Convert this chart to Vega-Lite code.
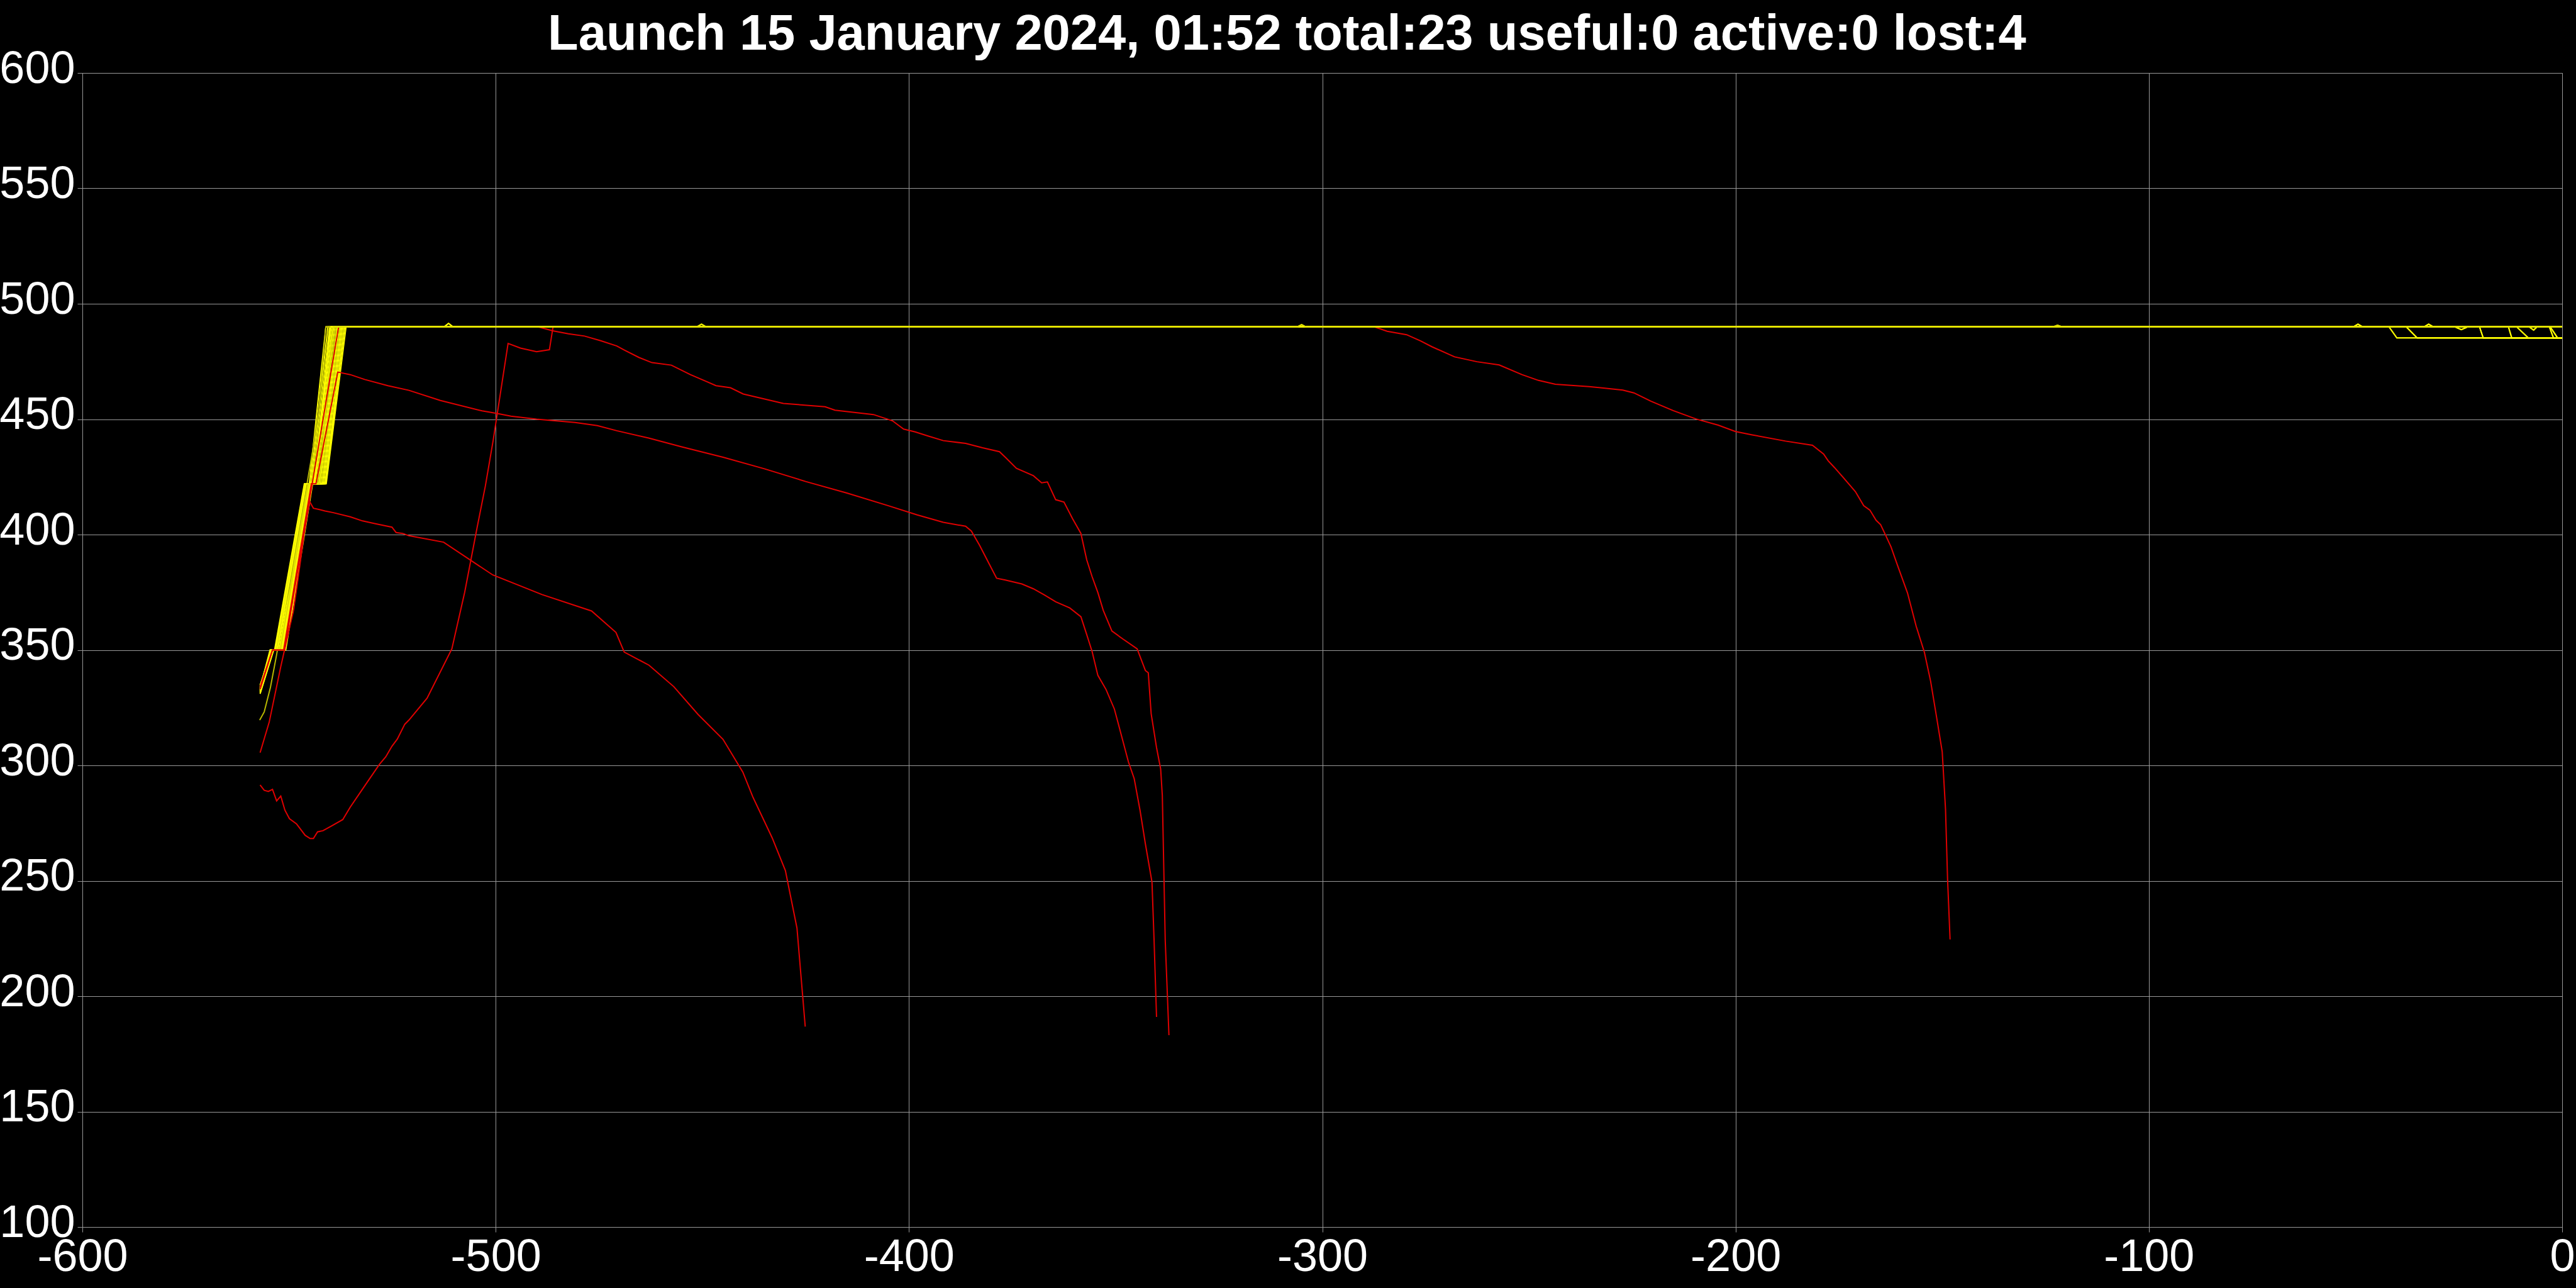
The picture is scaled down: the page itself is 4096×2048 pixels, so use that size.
{
  "$schema": "https://vega.github.io/schema/vega-lite/v6.json",
  "width": 3943,
  "height": 1835,
  "autosize": {"type": "none"},
  "padding": {"left": 131, "top": 116, "right": 22, "bottom": 97},
  "background": "#000000",
  "config": {
    "view": {"stroke": "#999999", "strokeWidth": 1, "fill": "#000000"},
    "axis": {
      "labelFont": "Liberation Sans",
      "labelFontSize": 72,
      "labelColor": "#ffffff",
      "gridColor": "#999999",
      "gridWidth": 1,
      "domainColor": "#999999",
      "tickColor": "#999999",
      "tickSize": 8,
      "labelPadding": 4,
      "labelFlush": false,
      "labelOverlap": false,
      "labelBound": false
    }
  },
  "title": {
    "text": "Launch 15 January 2024, 01:52 total:23 useful:0 active:0 lost:4",
    "font": "Liberation Sans",
    "fontSize": 79.5,
    "fontWeight": "bold",
    "color": "#ffffff",
    "anchor": "middle",
    "frame": "bounds",
    "offset": -13,
    "dy": 9
  },
  "datasets": {
    "ok": [
      {"id":"y01","t":-557,"h":333.5},{"id":"y01","t":-554.6,"h":350},{"id":"y01","t":-553.5,"h":350},{"id":"y01","t":-546.3,"h":422},{"id":"y01","t":-545.1,"h":422},{"id":"y01","t":-541.1,"h":490},{"id":"y01","t":-512.5,"h":490},{"id":"y01","t":-511.4,"h":491.5},{"id":"y01","t":-510.3,"h":490},{"id":"y01","t":0,"h":490},
      {"id":"y02","t":-557,"h":332},{"id":"y02","t":-554.5,"h":350},{"id":"y02","t":-553.3,"h":350},{"id":"y02","t":-546.2,"h":422},{"id":"y02","t":-544.8,"h":422},{"id":"y02","t":-540.6,"h":490},{"id":"y02","t":0,"h":490},
      {"id":"y03","t":-557,"h":334},{"id":"y03","t":-554.4,"h":350},{"id":"y03","t":-553.1,"h":350},{"id":"y03","t":-546.1,"h":422},{"id":"y03","t":-544.5,"h":422},{"id":"y03","t":-540.2,"h":490},{"id":"y03","t":-41.9,"h":490},{"id":"y03","t":-40.0,"h":485.2},{"id":"y03","t":0,"h":485.2},
      {"id":"y04","t":-557,"h":331.5},{"id":"y04","t":-554.3,"h":350},{"id":"y04","t":-552.9,"h":350},{"id":"y04","t":-545.9,"h":422},{"id":"y04","t":-544.2,"h":422},{"id":"y04","t":-539.8,"h":490},{"id":"y04","t":-451.3,"h":490},{"id":"y04","t":-450.2,"h":491.2},{"id":"y04","t":-449.1,"h":490},{"id":"y04","t":0,"h":490},
      {"id":"y05","t":-557,"h":333},{"id":"y05","t":-554.2,"h":350},{"id":"y05","t":-552.7,"h":350},{"id":"y05","t":-545.7,"h":422},{"id":"y05","t":-544.0,"h":422},{"id":"y05","t":-539.5,"h":490},{"id":"y05","t":0,"h":490},
      {"id":"y06","t":-557,"h":332.5},{"id":"y06","t":-554.1,"h":350},{"id":"y06","t":-552.4,"h":350},{"id":"y06","t":-545.5,"h":422},{"id":"y06","t":-543.7,"h":422},{"id":"y06","t":-539.2,"h":490},{"id":"y06","t":-37.7,"h":490},{"id":"y06","t":-35.1,"h":485.2},{"id":"y06","t":0,"h":485.2},
      {"id":"y07","t":-557,"h":334.5},{"id":"y07","t":-554.3,"h":350},{"id":"y07","t":-552.2,"h":350},{"id":"y07","t":-545.4,"h":422},{"id":"y07","t":-543.4,"h":422},{"id":"y07","t":-538.9,"h":490},{"id":"y07","t":-8.0,"h":490},{"id":"y07","t":-6.9,"h":488.6},{"id":"y07","t":-6.1,"h":490},{"id":"y07","t":0,"h":490},
      {"id":"y08","t":-557,"h":331.8},{"id":"y08","t":-554.0,"h":350},{"id":"y08","t":-552.0,"h":350},{"id":"y08","t":-545.2,"h":422},{"id":"y08","t":-543.1,"h":422},{"id":"y08","t":-538.6,"h":490},{"id":"y08","t":-123.2,"h":490},{"id":"y08","t":-122.1,"h":490.7},{"id":"y08","t":-121.0,"h":490},{"id":"y08","t":0,"h":490},
      {"id":"y09","t":-557,"h":333.2},{"id":"y09","t":-554.2,"h":350},{"id":"y09","t":-551.8,"h":350},{"id":"y09","t":-545.0,"h":422},{"id":"y09","t":-542.8,"h":422},{"id":"y09","t":-538.3,"h":490},{"id":"y09","t":-20.0,"h":490},{"id":"y09","t":-19.1,"h":485.2},{"id":"y09","t":0,"h":485.2},
      {"id":"y10","t":-557,"h":332.2},{"id":"y10","t":-553.9,"h":350},{"id":"y10","t":-551.6,"h":350},{"id":"y10","t":-544.9,"h":422},{"id":"y10","t":-542.5,"h":422},{"id":"y10","t":-538.0,"h":490},{"id":"y10","t":-50.5,"h":490},{"id":"y10","t":-49.4,"h":491.2},{"id":"y10","t":-48.3,"h":490},{"id":"y10","t":0,"h":490},
      {"id":"y11","t":-557,"h":334.2},{"id":"y11","t":-554.1,"h":350},{"id":"y11","t":-551.4,"h":350},{"id":"y11","t":-544.8,"h":422},{"id":"y11","t":-542.2,"h":422},{"id":"y11","t":-537.7,"h":490},{"id":"y11","t":0,"h":490},
      {"id":"y12","t":-557,"h":331.2},{"id":"y12","t":-553.8,"h":350},{"id":"y12","t":-551.3,"h":350},{"id":"y12","t":-544.7,"h":422},{"id":"y12","t":-541.9,"h":422},{"id":"y12","t":-537.4,"h":490},{"id":"y12","t":-33.4,"h":490},{"id":"y12","t":-32.3,"h":491.2},{"id":"y12","t":-31.2,"h":490},{"id":"y12","t":-13.0,"h":490},{"id":"y12","t":-12.2,"h":485.2},{"id":"y12","t":0,"h":485.2},
      {"id":"y13","t":-557,"h":333.8},{"id":"y13","t":-554.0,"h":350},{"id":"y13","t":-551.2,"h":350},{"id":"y13","t":-544.6,"h":422},{"id":"y13","t":-541.6,"h":422},{"id":"y13","t":-537.1,"h":490},{"id":"y13","t":-26.0,"h":490},{"id":"y13","t":-24.4,"h":488.8},{"id":"y13","t":-22.8,"h":490},{"id":"y13","t":0,"h":490},
      {"id":"y14","t":-557,"h":332.6},{"id":"y14","t":-553.8,"h":350},{"id":"y14","t":-551.0,"h":350},{"id":"y14","t":-544.5,"h":422},{"id":"y14","t":-541.3,"h":422},{"id":"y14","t":-536.8,"h":490},{"id":"y14","t":-11.0,"h":490},{"id":"y14","t":-8.2,"h":485.2},{"id":"y14","t":0,"h":485.2},
      {"id":"y15","t":-557,"h":334.8},{"id":"y15","t":-554.0,"h":350},{"id":"y15","t":-550.9,"h":350},{"id":"y15","t":-544.4,"h":422},{"id":"y15","t":-541.2,"h":422},{"id":"y15","t":-536.5,"h":490},{"id":"y15","t":0,"h":490},
      {"id":"y16","t":-557,"h":331},{"id":"y16","t":-553.7,"h":350},{"id":"y16","t":-550.8,"h":350},{"id":"y16","t":-544.3,"h":422},{"id":"y16","t":-541.0,"h":422},{"id":"y16","t":-536.2,"h":490},{"id":"y16","t":-3.1,"h":490},{"id":"y16","t":-2.1,"h":485.2},{"id":"y16","t":0,"h":485.2},
      {"id":"y17","t":-557.1,"h":319.6},{"id":"y17","t":-556,"h":323.2},{"id":"y17","t":-554.5,"h":333.8},{"id":"y17","t":-553,"h":348},{"id":"y17","t":-551.5,"h":363.8},{"id":"y17","t":-549.9,"h":377.4},{"id":"y17","t":-548.4,"h":393.7},{"id":"y17","t":-546.9,"h":409},{"id":"y17","t":-545.8,"h":420.4},{"id":"y17","t":-544.3,"h":436.2},{"id":"y17","t":-542.8,"h":454.5},{"id":"y17","t":-541.1,"h":490},{"id":"y17","t":0,"h":490},
      {"id":"y18","t":-557,"h":333},{"id":"y18","t":-554.4,"h":350},{"id":"y18","t":-552.8,"h":350},{"id":"y18","t":-545.9,"h":422},{"id":"y18","t":-543.9,"h":422},{"id":"y18","t":-540.0,"h":490},{"id":"y18","t":-2.9,"h":490},{"id":"y18","t":-1.1,"h":485.2},{"id":"y18","t":0,"h":485.2},
      {"id":"y19","t":-557,"h":332.8},{"id":"y19","t":-554.1,"h":350},{"id":"y19","t":-552.1,"h":350},{"id":"y19","t":-545.3,"h":422},{"id":"y19","t":-542.6,"h":422},{"id":"y19","t":-539.4,"h":490},{"id":"y19","t":-306,"h":490},{"id":"y19","t":-305,"h":491},{"id":"y19","t":-304,"h":490},{"id":"y19","t":0,"h":490}
    ],
    "lost": [
      {"id":"r1","t":-557.0,"h":305.5},{"id":"r1","t":-554.8,"h":318.7},{"id":"r1","t":-552.0,"h":342.8},{"id":"r1","t":-548.9,"h":367.3},{"id":"r1","t":-547.4,"h":386.4},{"id":"r1","t":-546.4,"h":400.0},{"id":"r1","t":-545.0,"h":414.3},{"id":"r1","t":-544.1,"h":411.4},{"id":"r1","t":-542.8,"h":410.9},{"id":"r1","t":-541.3,"h":410.2},{"id":"r1","t":-539.3,"h":409.5},{"id":"r1","t":-535.2,"h":407.7},{"id":"r1","t":-532.2,"h":405.9},{"id":"r1","t":-529.1,"h":404.7},{"id":"r1","t":-525.1,"h":403.2},{"id":"r1","t":-524.1,"h":400.9},{"id":"r1","t":-522.5,"h":400.5},{"id":"r1","t":-521.0,"h":399.5},{"id":"r1","t":-512.6,"h":396.7},{"id":"r1","t":-500.7,"h":382.5},{"id":"r1","t":-488.8,"h":374.0},{"id":"r1","t":-476.8,"h":366.9},{"id":"r1","t":-470.9,"h":357.6},{"id":"r1","t":-468.9,"h":349.1},{"id":"r1","t":-462.9,"h":343.4},{"id":"r1","t":-456.9,"h":334.1},{"id":"r1","t":-451.0,"h":322.0},{"id":"r1","t":-445.0,"h":311.3},{"id":"r1","t":-440.2,"h":297.1},{"id":"r1","t":-437.8,"h":286.4},{"id":"r1","t":-433.1,"h":268.6},{"id":"r1","t":-429.9,"h":254.4},{"id":"r1","t":-427.1,"h":229.5},{"id":"r1","t":-425.1,"h":186.8},
      {"id":"r2","t":-557.0,"h":334.0},{"id":"r2","t":-554.0,"h":350.0},{"id":"r2","t":-551.1,"h":350.0},{"id":"r2","t":-544.4,"h":422.0},{"id":"r2","t":-543.5,"h":422.0},{"id":"r2","t":-538.2,"h":470.4},{"id":"r2","t":-535.2,"h":469.3},{"id":"r2","t":-531.7,"h":467.2},{"id":"r2","t":-526.1,"h":464.5},{"id":"r2","t":-521.0,"h":462.5},{"id":"r2","t":-513.4,"h":458.1},{"id":"r2","t":-503.3,"h":453.6},{"id":"r2","t":-499.8,"h":452.5},{"id":"r2","t":-496.3,"h":451.3},{"id":"r2","t":-490.1,"h":450.0},{"id":"r2","t":-480.8,"h":448.6},{"id":"r2","t":-475.4,"h":447.2},{"id":"r2","t":-470.7,"h":445.0},{"id":"r2","t":-463.0,"h":441.8},{"id":"r2","t":-455.0,"h":438.0},{"id":"r2","t":-445.0,"h":433.5},{"id":"r2","t":-435.0,"h":428.5},{"id":"r2","t":-425.0,"h":423.0},{"id":"r2","t":-415.0,"h":418.0},{"id":"r2","t":-405.0,"h":412.5},{"id":"r2","t":-398.0,"h":408.5},{"id":"r2","t":-391.7,"h":405.3},{"id":"r2","t":-386.3,"h":403.6},{"id":"r2","t":-384.9,"h":401.5},{"id":"r2","t":-382.9,"h":395.3},{"id":"r2","t":-380.8,"h":388.0},{"id":"r2","t":-378.8,"h":381.1},{"id":"r2","t":-376.7,"h":380.3},{"id":"r2","t":-372.7,"h":378.6},{"id":"r2","t":-369.9,"h":376.5},{"id":"r2","t":-367.2,"h":373.8},{"id":"r2","t":-364.5,"h":370.9},{"id":"r2","t":-361.1,"h":368.2},{"id":"r2","t":-358.4,"h":364.4},{"id":"r2","t":-357.0,"h":356.7},{"id":"r2","t":-355.7,"h":349.4},{"id":"r2","t":-354.3,"h":339.0},{"id":"r2","t":-352.3,"h":332.8},{"id":"r2","t":-350.3,"h":324.4},{"id":"r2","t":-348.9,"h":315.0},{"id":"r2","t":-346.9,"h":301.5},{"id":"r2","t":-345.5,"h":294.2},{"id":"r2","t":-344.1,"h":280.6},{"id":"r2","t":-342.8,"h":266.0},{"id":"r2","t":-341.2,"h":249.4},{"id":"r2","t":-340.7,"h":224.4},{"id":"r2","t":-340.1,"h":191.0},
      {"id":"r3","t":-557.0,"h":291.5},{"id":"r3","t":-556.0,"h":289.2},{"id":"r3","t":-555.0,"h":288.7},{"id":"r3","t":-554.0,"h":289.6},{"id":"r3","t":-553.0,"h":284.6},{"id":"r3","t":-552.0,"h":286.7},{"id":"r3","t":-551.0,"h":280.6},{"id":"r3","t":-549.9,"h":276.9},{"id":"r3","t":-548.2,"h":274.7},{"id":"r3","t":-546.1,"h":269.7},{"id":"r3","t":-544.9,"h":268.3},{"id":"r3","t":-544.1,"h":268.3},{"id":"r3","t":-543.1,"h":271.2},{"id":"r3","t":-541.8,"h":271.7},{"id":"r3","t":-539.8,"h":273.7},{"id":"r3","t":-537.0,"h":276.5},{"id":"r3","t":-535.2,"h":281.9},{"id":"r3","t":-531.2,"h":292.4},{"id":"r3","t":-528.1,"h":300.5},{"id":"r3","t":-526.6,"h":303.7},{"id":"r3","t":-525.1,"h":308.3},{"id":"r3","t":-523.8,"h":311.4},{"id":"r3","t":-522.0,"h":317.8},{"id":"r3","t":-521.0,"h":319.6},{"id":"r3","t":-516.6,"h":329.1},{"id":"r3","t":-510.6,"h":350.5},{"id":"r3","t":-507.5,"h":375.0},{"id":"r3","t":-504.5,"h":403.0},{"id":"r3","t":-502.5,"h":421.0},{"id":"r3","t":-500.6,"h":440.9},{"id":"r3","t":-497.0,"h":482.8},{"id":"r3","t":-494.0,"h":480.8},{"id":"r3","t":-490.1,"h":479.2},{"id":"r3","t":-487.0,"h":480.1},{"id":"r3","t":-486.1,"h":490.2},{"id":"r3","t":-287.7,"h":490.2},{"id":"r3","t":-284.3,"h":488.1},{"id":"r3","t":-279.6,"h":486.6},{"id":"r3","t":-276.2,"h":483.9},{"id":"r3","t":-273.5,"h":481.4},{"id":"r3","t":-268.0,"h":477.0},{"id":"r3","t":-262.6,"h":474.9},{"id":"r3","t":-257.2,"h":473.5},{"id":"r3","t":-251.7,"h":469.3},{"id":"r3","t":-247.7,"h":466.8},{"id":"r3","t":-243.6,"h":465.1},{"id":"r3","t":-235.4,"h":464.1},{"id":"r3","t":-227.3,"h":462.6},{"id":"r3","t":-224.6,"h":461.4},{"id":"r3","t":-220.5,"h":457.8},{"id":"r3","t":-215.1,"h":453.7},{"id":"r3","t":-209.6,"h":450.1},{"id":"r3","t":-204.2,"h":447.4},{"id":"r3","t":-200.1,"h":444.7},{"id":"r3","t":-196.0,"h":443.2},{"id":"r3","t":-187.9,"h":440.5},{"id":"r3","t":-181.4,"h":438.7},{"id":"r3","t":-178.7,"h":434.9},{"id":"r3","t":-177.6,"h":432.0},{"id":"r3","t":-176.1,"h":429.1},{"id":"r3","t":-173.8,"h":424.4},{"id":"r3","t":-172.1,"h":420.9},{"id":"r3","t":-171.0,"h":418.6},{"id":"r3","t":-169.0,"h":412.5},{"id":"r3","t":-167.5,"h":410.6},{"id":"r3","t":-166.0,"h":406.2},{"id":"r3","t":-164.9,"h":404.3},{"id":"r3","t":-163.9,"h":400.5},{"id":"r3","t":-162.4,"h":394.7},{"id":"r3","t":-160.9,"h":387.1},{"id":"r3","t":-158.4,"h":374.7},{"id":"r3","t":-156.3,"h":360.3},{"id":"r3","t":-154.3,"h":348.9},{"id":"r3","t":-152.8,"h":336.4},{"id":"r3","t":-151.3,"h":320.2},{"id":"r3","t":-150.0,"h":305.9},{"id":"r3","t":-149.2,"h":281.0},{"id":"r3","t":-148.7,"h":250.4},{"id":"r3","t":-148.1,"h":224.6},
      {"id":"r4","t":-557.0,"h":333.0},{"id":"r4","t":-554.0,"h":350.0},{"id":"r4","t":-551.3,"h":350.0},{"id":"r4","t":-544.6,"h":422.0},{"id":"r4","t":-544.4,"h":422.0},{"id":"r4","t":-538.0,"h":490.0},{"id":"r4","t":-489.7,"h":490.0},{"id":"r4","t":-486.2,"h":488.3},{"id":"r4","t":-482.4,"h":487.0},{"id":"r4","t":-478.5,"h":486.0},{"id":"r4","t":-474.6,"h":484.0},{"id":"r4","t":-470.7,"h":481.7},{"id":"r4","t":-468.8,"h":479.9},{"id":"r4","t":-465.3,"h":476.7},{"id":"r4","t":-462.2,"h":474.5},{"id":"r4","t":-457.5,"h":473.4},{"id":"r4","t":-452.9,"h":469.3},{"id":"r4","t":-449.0,"h":466.3},{"id":"r4","t":-446.7,"h":464.5},{"id":"r4","t":-443.2,"h":463.6},{"id":"r4","t":-440.1,"h":460.9},{"id":"r4","t":-430.4,"h":456.8},{"id":"r4","t":-420.3,"h":455.4},{"id":"r4","t":-417.9,"h":453.9},{"id":"r4","t":-408.6,"h":452.0},{"id":"r4","t":-404.0,"h":449.3},{"id":"r4","t":-401.3,"h":445.7},{"id":"r4","t":-398.5,"h":444.5},{"id":"r4","t":-395.4,"h":442.7},{"id":"r4","t":-391.7,"h":440.7},{"id":"r4","t":-386.3,"h":439.5},{"id":"r4","t":-382.2,"h":437.6},{"id":"r4","t":-378.1,"h":435.9},{"id":"r4","t":-376.7,"h":433.5},{"id":"r4","t":-374.0,"h":428.7},{"id":"r4","t":-369.9,"h":425.5},{"id":"r4","t":-367.9,"h":422.4},{"id":"r4","t":-366.5,"h":422.8},{"id":"r4","t":-364.5,"h":415.1},{"id":"r4","t":-362.5,"h":414.1},{"id":"r4","t":-360.4,"h":406.8},{"id":"r4","t":-358.4,"h":400.5},{"id":"r4","t":-357.0,"h":389.1},{"id":"r4","t":-355.7,"h":381.8},{"id":"r4","t":-354.3,"h":374.9},{"id":"r4","t":-353.0,"h":367.2},{"id":"r4","t":-350.9,"h":358.2},{"id":"r4","t":-348.2,"h":354.7},{"id":"r4","t":-344.8,"h":350.5},{"id":"r4","t":-342.8,"h":341.1},{"id":"r4","t":-342.1,"h":340.1},{"id":"r4","t":-341.4,"h":322.4},{"id":"r4","t":-340.1,"h":307.7},{"id":"r4","t":-339.1,"h":298.4},{"id":"r4","t":-338.7,"h":286.9},{"id":"r4","t":-338.0,"h":224.4},{"id":"r4","t":-337.1,"h":183.1}
    ]
  },
  "encoding": {
    "x": {
      "field": "t", "type": "quantitative", "title": null,
      "scale": {"domain": [-600, 0], "nice": false, "zero": false},
      "axis": {"values": [-600, -500, -400, -300, -200, -100, 0], "labelExpr": "'' + datum.value"}
    },
    "y": {
      "field": "h", "type": "quantitative", "title": null,
      "scale": {"domain": [100, 600], "nice": false, "zero": false},
      "axis": {"values": [100, 150, 200, 250, 300, 350, 400, 450, 500, 550, 600], "labelExpr": "'' + datum.value", "labelOffset": -7}
    },
    "detail": {"field": "id", "type": "nominal"}
  },
  "layer": [
    {
      "data": {"name": "ok"},
      "mark": {"type": "line", "strokeWidth": 2},
      "encoding": {
        "color": {
          "field": "id", "type": "nominal", "legend": null,
          "scale": {
            "domain": ["y01","y02","y03","y04","y05","y06","y07","y08","y09","y10","y11","y12","y13","y14","y15","y16","y17","y18","y19"],
            "range": ["#ffff00","#ffff00","#f2f200","#e6e600","#ffff00","#ffff00","#eeee00","#d4d400","#ffff00","#ffff00","#e8e800","#ffff00","#ffff00","#f0f000","#ffff00","#ffff00","#b8b800","#ffff00","#e0e000"]
          }
        }
      }
    },
    {
      "data": {"name": "lost"},
      "mark": {"type": "line", "strokeWidth": 2, "color": "#e00000"}
    },
    {
      "data": {"name": "ok"},
      "transform": [{"filter": "datum.h >= 484"}],
      "mark": {"type": "line", "strokeWidth": 2},
      "encoding": {
        "color": {
          "field": "id", "type": "nominal", "legend": null,
          "scale": {
            "domain": ["y01","y02","y03","y04","y05","y06","y07","y08","y09","y10","y11","y12","y13","y14","y15","y16","y17","y18","y19"],
            "range": ["#ffff00","#ffff00","#f2f200","#e6e600","#ffff00","#ffff00","#eeee00","#d4d400","#ffff00","#ffff00","#e8e800","#ffff00","#ffff00","#f0f000","#ffff00","#ffff00","#b8b800","#ffff00","#e0e000"]
          }
        }
      }
    }
  ]
}
